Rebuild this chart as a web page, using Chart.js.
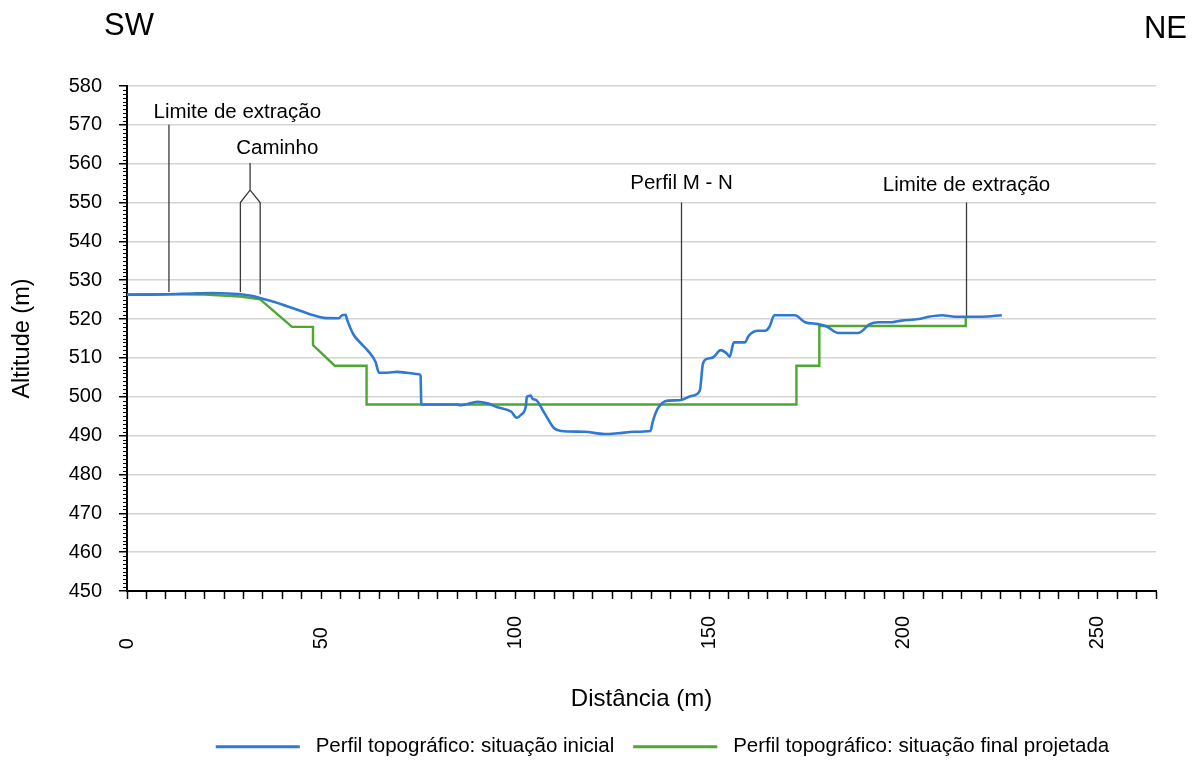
<!DOCTYPE html>
<html>
<head>
<meta charset="utf-8">
<script src="https://cdn.jsdelivr.net/npm/chart.js@4.4.1/dist/chart.umd.min.js"></script>
<style>
  html, body { margin: 0; padding: 0; background: #fff; }
  #wrap { width: 1193px; height: 765px; }
</style>
</head>
<body>
<div id="wrap"><canvas id="perfil" width="1193" height="765"></canvas></div>
<script>
// perfil topográfico SW - NE
const distInicial = [0, 5, 11, 17, 22, 26, 29.2, 32, 34.3, 38, 41.2, 45, 48, 50.7, 54.5, 55.4, 56.3, 56.7,
  58.4, 60, 61.9, 64, 64.9, 67, 69.6, 72, 75.2, 75.6, 75.8, 80.8, 85.1, 86, 90.3, 92.8, 95.4, 98.9,
  100.4, 101.4, 102.7, 103, 104, 104.5, 105.3, 107.5, 110, 111.8, 117.8, 123, 126.4, 130.7, 134.8,
  135.4, 136.7, 139.3, 142.3, 145.3, 147.5, 148.3, 149.2, 150.9, 152.9, 154.4, 155.2, 156.3, 159.1,
  160.1, 162.5, 164.3, 165.5, 166.7, 172, 174.6, 178, 180.2, 183.2, 188.3, 191.3, 193.5, 197, 199.5,
  203.8, 206.4, 209.9, 213.3, 220.2, 225.3];
const altInicial = [526.3, 526.3, 526.4, 526.6, 526.7, 526.6, 526.4, 526, 525.4, 524.4, 523.3, 522, 521, 520.3, 520.2, 521, 521.1, 519.8,
  515.9, 514, 512, 509, 506.2, 506.2, 506.4, 506.2, 505.8, 505.4, 498, 498, 498, 497.8, 498.7, 498.3, 497.3, 496.2,
  494.6, 495.3, 497.5, 500, 500.3, 499.4, 499.2, 495.8, 491.9, 491.2, 491, 490.4, 490.6, 491, 491.2,
  493.6, 497, 499, 499.1, 500.2, 501.5, 508.4, 509.7, 510.1, 512, 511.2, 510.3, 514, 514,
  515.7, 517, 517, 518.1, 521, 521, 519.2, 518.7, 518.1, 516.4, 516.4, 518.7, 519.2, 519.2, 519.6,
  520, 520.6, 521, 520.6, 520.6, 521];

const distFinal = [0, 11, 20, 29.2, 34.3, 42.5, 47.9, 47.9, 53.5, 61.7, 61.7, 172.4, 172.4, 178.3, 178.3, 216, 216];
const altFinal = [526.3, 526.4, 526.3, 525.8, 525.1, 518, 518, 513.3, 508, 508, 498, 498, 508, 508, 518.2, 518.2, 520.4];

// linhas de referência
const limiteSwX = [10.8, 10.8];
const limiteSwY = [527, 570];
const caminhoX = [29.2, 29.2, 31.7, 31.7, 31.7, 34.3, 34.3];
const caminhoY = [527, 550, 553.2, 560.2, 553.2, 550, 526.4];
const perfilMnX = [142.8, 142.8];
const perfilMnY = [499.2, 550];
const limiteNeX = [216.2, 216.2];
const limiteNeY = [520.5, 550];

const notas = ['Limite de extração', 'Caminho', 'Perfil M - N', 'Limite de extração'];
const xMarcas = [0, 50, 100, 150, 200, 250];

const FONTE = '"Liberation Sans", Arial, sans-serif';

function pares(xs, ys) {
    return xs.map((x, i) => ({ x: x, y: ys[i] }));
}

function linhaRef(xs, ys) {
    return {
        data: pares(xs, ys),
        borderColor: '#3a3a3a',
        borderWidth: 1.3,
        pointRadius: 0,
        tension: 0,
        fill: false
    };
}

// onde ficam os textos das notas (em unidades do gráfico)
const notaPos = [[28.4, 573.3], [38.7, 564], [142.8, 555], [216.2, 554.5]];

const extras = {
    id: 'extras',
    afterLayout(chart) {
        // legenda um pouco mais à direita e abaixo, como no original
        const lg = chart.legend;
        lg.left += 21; lg.right += 21;
        lg.top += 2; lg.bottom += 2;
    },
    afterDraw(chart) {
        const { ctx, scales: { x, y } } = chart;
        ctx.save();
        ctx.strokeStyle = '#000';
        ctx.lineWidth = 1;
        ctx.beginPath();
        for (let v = y.min + 1; v < y.max; v++) {
            if (v % 10 === 0) continue;
            const py = Math.round(y.getPixelForValue(v)) + 0.5;
            ctx.moveTo(x.left - 4, py);
            ctx.lineTo(x.left, py);
        }
        ctx.stroke();

        ctx.fillStyle = '#000';
        ctx.font = '20.5px ' + FONTE;
        ctx.textAlign = 'center';
        ctx.textBaseline = 'middle';
        notas.forEach((t, i) => {
            ctx.fillText(t, x.getPixelForValue(notaPos[i][0]), y.getPixelForValue(notaPos[i][1]));
        });

        ctx.font = '31px ' + FONTE;
        ctx.textAlign = 'left';
        ctx.fillText('SW', 104, 26);
        ctx.textAlign = 'right';
        ctx.fillText('NE', 1187, 29);
        ctx.restore();
    }
};

const ctx = document.getElementById('perfil').getContext('2d');
new Chart(ctx, {
    type: 'line',
    data: {
        datasets: [
            {
                label: 'Perfil topográfico: situação inicial',
                data: pares(distInicial, altInicial),
                borderColor: '#2f78d4',
                borderWidth: 2.6,
                pointRadius: 0,
                cubicInterpolationMode: 'monotone',
                fill: false
            },
            {
                label: 'Perfil topográfico: situação final projetada',
                data: pares(distFinal, altFinal),
                borderColor: '#4ea72e',
                borderWidth: 2.4,
                pointRadius: 0,
                tension: 0,
                fill: false
            },
            linhaRef(limiteSwX, limiteSwY),
            linhaRef(caminhoX, caminhoY),
            linhaRef(perfilMnX, perfilMnY),
            linhaRef(limiteNeX, limiteNeY)
        ]
    },
    options: {
        responsive: false,
        animation: false,
        layout: { padding: { left: 0, right: 37, top: 86, bottom: 0 } },
        plugins: {
            legend: {
                position: 'bottom',
                fullSize: false,
                labels: {
                    boxWidth: 84,
                    boxHeight: 3,
                    padding: 19,
                    color: '#000',
                    font: { family: FONTE, size: 20.5 },
                    generateLabels: chart => chart.data.datasets.slice(0, 2).map((ds, i) => ({
                        text: ' ' + ds.label,
                        fillStyle: ds.borderColor,
                        strokeStyle: ds.borderColor,
                        lineWidth: 0,
                        datasetIndex: i
                    }))
                }
            },
            tooltip: { enabled: false }
        },
        scales: {
            x: {
                type: 'linear',
                min: 0,
                max: 265,
                afterFit: scale => {
                    scale.height = 124.5;
                    scale.paddingRight = 0;
                },
                border: { color: '#000', width: 2 },
                grid: {
                    drawOnChartArea: false,
                    drawTicks: true,
                    tickLength: 8,
                    tickColor: '#000',
                    tickWidth: 1.5
                },
                ticks: {
                    stepSize: 5,
                    autoSkip: false,
                    minRotation: 90,
                    maxRotation: 90,
                    padding: 17,
                    color: '#000',
                    font: { family: FONTE, size: 20 },
                    callback: v => {
                        if (!xMarcas.includes(v)) return '';
                        const s = String(v);
                        return s + '\u2007'.repeat(3 - s.length);
                    }
                },
                title: {
                    display: true,
                    text: 'Distância (m)',
                    color: '#000',
                    font: { family: FONTE, size: 24 },
                    padding: { top: 0, bottom: 2 }
                }
            },
            y: {
                min: 450,
                max: 580,
                afterFit: scale => { scale.width = 127; },
                border: { color: '#000', width: 2 },
                grid: {
                    color: '#d4d4d4',
                    lineWidth: 1.5,
                    tickLength: 8,
                    tickColor: '#000',
                    tickWidth: 1.5
                },
                ticks: {
                    stepSize: 10,
                    padding: 17,
                    color: '#000',
                    font: { family: FONTE, size: 20 }
                },
                title: {
                    display: true,
                    text: 'Altitude (m)',
                    color: '#000',
                    font: { family: FONTE, size: 23.5 },
                    padding: { top: 8, bottom: 0 }
                }
            }
        }
    },
    plugins: [extras]
});
</script>
</body>
</html>
